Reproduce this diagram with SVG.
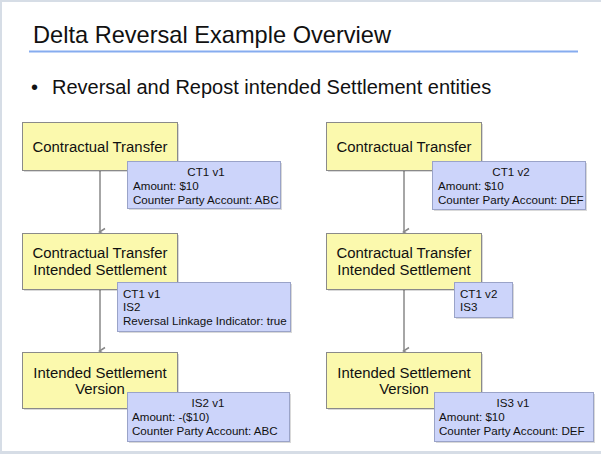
<svg xmlns="http://www.w3.org/2000/svg" width="601" height="454" viewBox="0 0 601 454">
<style>
.y{fill:#fbf9ad;stroke:#8a8a8a;stroke-width:1}
.b{fill:#ccd4fa;stroke:#9aa3c8;stroke-width:1}
.sh{fill:#000;opacity:0.15}
.t{font-family:"Liberation Sans",Arial,sans-serif;fill:#111}
.big{font-size:14.9px}
.sm{font-size:11.6px}
.c{stroke:#888;stroke-width:1.5;fill:none}
</style>
<defs>
<marker id="ah" markerWidth="10" markerHeight="10" refX="5" refY="8" orient="auto" markerUnits="userSpaceOnUse" viewBox="0 0 10 10">
<path d="M1.5,3 L5,8.5 L8.5,3" fill="none" stroke="#888" stroke-width="1.5"/>
</marker>
</defs>
<rect x="0" y="0" width="601" height="454" fill="#d6dde6"/>
<rect x="2" y="2" width="599" height="449" fill="#fff"/>
<g id="title">
<text class="t" x="33" y="43" font-size="23.6">Delta Reversal Example Overview</text>
<rect x="29" y="50.5" width="549" height="2" fill="#86acef"/>
<text class="t" x="31" y="94" font-size="20">•</text>
<text class="t" x="52" y="94" font-size="20">Reversal and Repost intended Settlement entities</text>
</g>
<g id="connectors">
<line class="c" x1="100" y1="170" x2="100" y2="232" marker-end="url(#ah)"/>
<line class="c" x1="100" y1="289" x2="100" y2="351" marker-end="url(#ah)"/>
<line class="c" x1="404" y1="170" x2="404" y2="232" marker-end="url(#ah)"/>
<line class="c" x1="404" y1="289" x2="404" y2="351" marker-end="url(#ah)"/>
</g>
<g id="ct-left">
<rect class="sh" x="24" y="124" width="155" height="48"/>
<rect class="y" x="22.5" y="122.5" width="155" height="48"/>
<text class="t big" x="100" y="152" text-anchor="middle">Contractual Transfer</text>
</g>
<g id="ct-left-note">
<rect class="sh" x="129" y="163" width="153" height="47"/>
<rect class="b" x="127.5" y="161.5" width="153" height="47"/>
<text class="t sm" x="206" y="176" text-anchor="middle">CT1 v1</text>
<text class="t sm" x="133" y="190">Amount: $10</text>
<text class="t sm" x="133" y="204">Counter Party Account: ABC</text>
</g>
<g id="ctis-left">
<rect class="sh" x="24" y="235" width="155" height="56"/>
<rect class="y" x="22.5" y="233.5" width="155" height="56"/>
<text class="t big" x="100" y="258" text-anchor="middle">Contractual Transfer</text>
<text class="t big" x="100" y="275" text-anchor="middle">Intended Settlement</text>
</g>
<g id="ctis-left-note">
<rect class="sh" x="119" y="284" width="173" height="49"/>
<rect class="b" x="117.5" y="282.5" width="173" height="49"/>
<text class="t sm" x="123" y="298">CT1 v1</text>
<text class="t sm" x="123" y="311">IS2</text>
<text class="t sm" x="123" y="325">Reversal Linkage Indicator: true</text>
</g>
<g id="isv-left">
<rect class="sh" x="24" y="354" width="155" height="56"/>
<rect class="y" x="22.5" y="352.5" width="155" height="56"/>
<text class="t big" x="100" y="378" text-anchor="middle">Intended Settlement</text>
<text class="t big" x="100" y="394" text-anchor="middle">Version</text>
</g>
<g id="isv-left-note">
<rect class="sh" x="129" y="394" width="162" height="49"/>
<rect class="b" x="127.5" y="392.5" width="162" height="49"/>
<text class="t sm" x="208" y="407" text-anchor="middle">IS2 v1</text>
<text class="t sm" x="132" y="421">Amount: -($10)</text>
<text class="t sm" x="132" y="435">Counter Party Account: ABC</text>
</g>
<g id="ct-right">
<rect class="sh" x="328" y="124" width="155" height="48"/>
<rect class="y" x="326.5" y="122.5" width="155" height="48"/>
<text class="t big" x="404" y="152" text-anchor="middle">Contractual Transfer</text>
</g>
<g id="ct-right-note">
<rect class="sh" x="434" y="163" width="153" height="48"/>
<rect class="b" x="432.5" y="161.5" width="153" height="48"/>
<text class="t sm" x="511" y="176" text-anchor="middle">CT1 v2</text>
<text class="t sm" x="438" y="190">Amount: $10</text>
<text class="t sm" x="438" y="204">Counter Party Account: DEF</text>
</g>
<g id="ctis-right">
<rect class="sh" x="328" y="235" width="155" height="56"/>
<rect class="y" x="326.5" y="233.5" width="155" height="56"/>
<text class="t big" x="404" y="258" text-anchor="middle">Contractual Transfer</text>
<text class="t big" x="404" y="275" text-anchor="middle">Intended Settlement</text>
</g>
<g id="ctis-right-note">
<rect class="sh" x="456" y="284" width="58" height="35"/>
<rect class="b" x="454.5" y="282.5" width="58" height="35"/>
<text class="t sm" x="460" y="298">CT1 v2</text>
<text class="t sm" x="460" y="311">IS3</text>
</g>
<g id="isv-right">
<rect class="sh" x="328" y="354" width="155" height="56"/>
<rect class="y" x="326.5" y="352.5" width="155" height="56"/>
<text class="t big" x="404" y="378" text-anchor="middle">Intended Settlement</text>
<text class="t big" x="404" y="394" text-anchor="middle">Version</text>
</g>
<g id="isv-right-note">
<rect class="sh" x="436" y="394" width="159" height="49"/>
<rect class="b" x="434.5" y="392.5" width="159" height="49"/>
<text class="t sm" x="513" y="407" text-anchor="middle">IS3 v1</text>
<text class="t sm" x="439" y="421">Amount: $10</text>
<text class="t sm" x="439" y="435">Counter Party Account: DEF</text>
</g>
</svg>
